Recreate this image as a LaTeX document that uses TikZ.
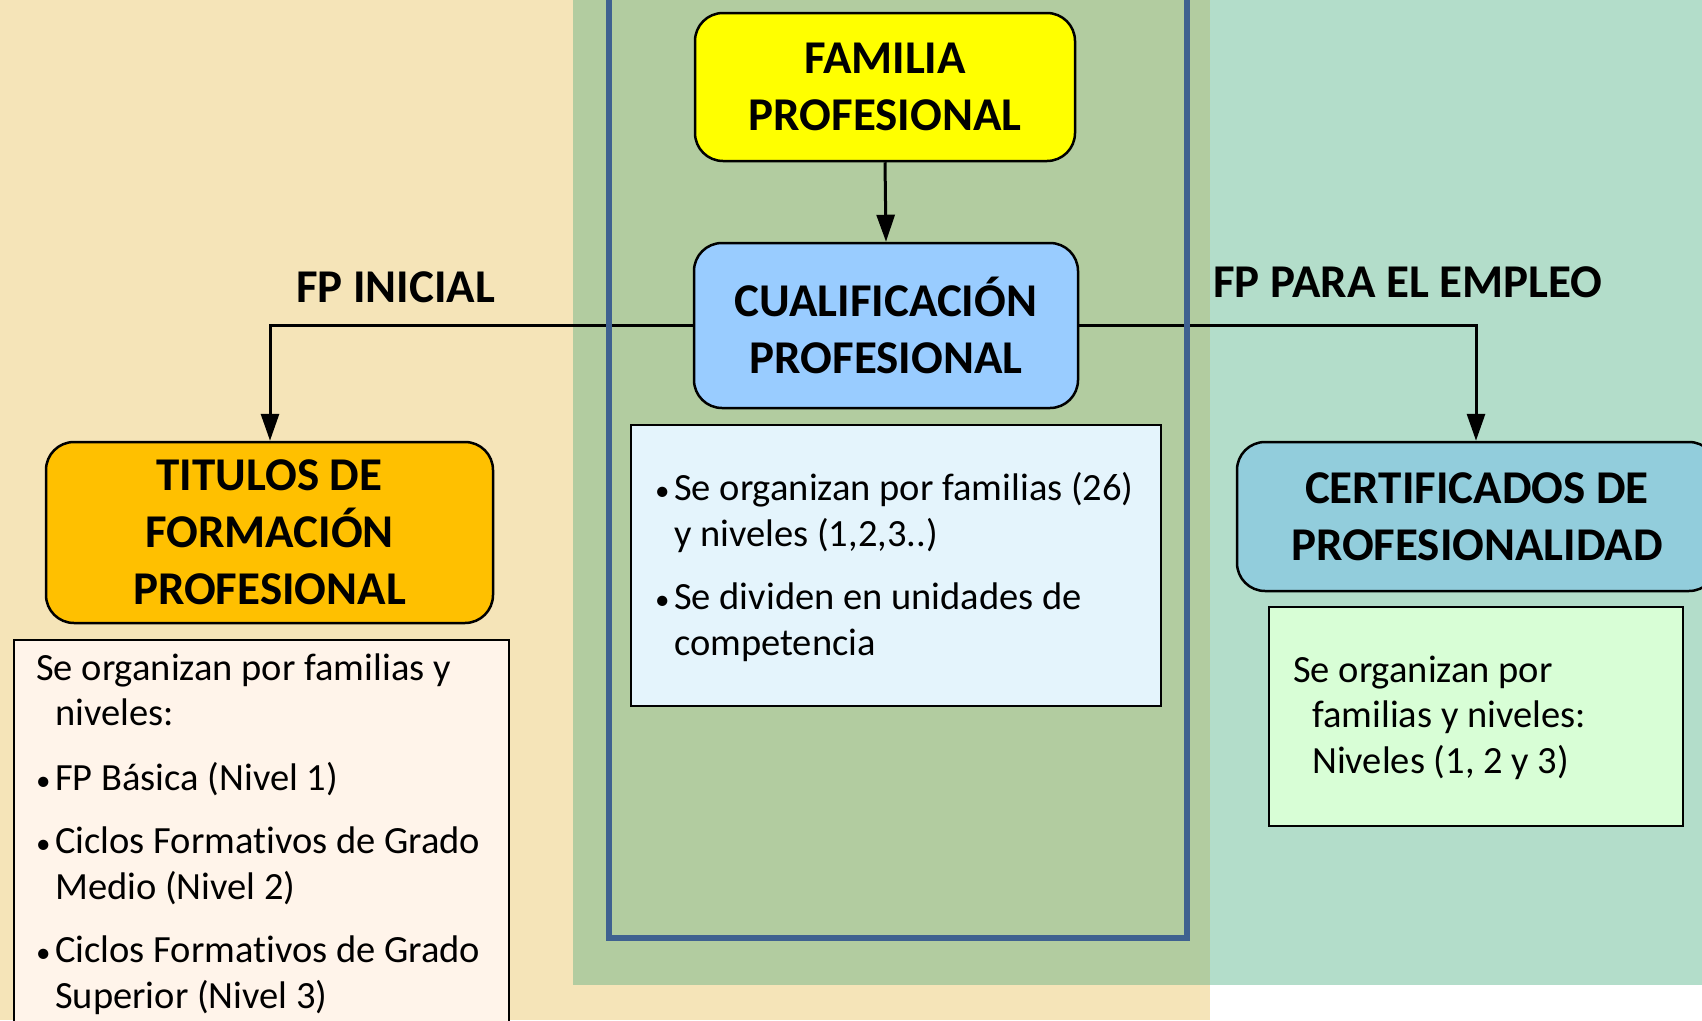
\documentclass[tikz,border=0pt]{standalone}
\usepackage{fontspec}
\setmainfont{Carlito}[RawFeature={-liga}]
\usetikzlibrary{arrows.meta}
\definecolor{bgbeige}{HTML}{F5E4B8}
\definecolor{bggreen}{HTML}{B2CCA0}
\definecolor{bgteal}{HTML}{B3DDCA}
\definecolor{framec}{HTML}{3F6190}
\definecolor{famc}{HTML}{FFFF00}
\definecolor{cualc}{HTML}{99CCFF}
\definecolor{titc}{HTML}{FFC000}
\definecolor{certc}{HTML}{92CDDC}
\definecolor{midc}{HTML}{E4F4FC}
\definecolor{leftc}{HTML}{FFF4EA}
\definecolor{rightc}{HTML}{D8FED6}
\newcommand{\bul}{\makebox[19pt][l]{\fontsize{29}{29}\selectfont•}}
\newcommand{\ind}{\hspace*{19pt}}
\pgfdeclarelayer{bglayer}
\pgfdeclarelayer{lineslayer}
\pgfdeclarelayer{framelayer}
\pgfsetlayers{bglayer,lineslayer,framelayer,main}
\tikzset{
  headbox/.style={draw=black, line width=2.5pt, rounded corners=28pt, inner sep=0pt,
    align=center, font=\fontsize{47}{57}\selectfont\bfseries},
  textbox/.style={draw=black, line width=2.5pt, inner sep=0pt},
  bodytext/.style={anchor=base west, align=left, inner sep=0pt,
    font=\fontsize{38.5}{45.5}\selectfont},
  conn/.style={draw=black, line width=3pt, -{Triangle[width=18pt,length=27pt]}},
  headlabel/.style={anchor=base west, inner sep=0pt, font=\fontsize{47}{57}\selectfont\bfseries}
}
\begin{document}
\begin{tikzpicture}[x=1pt,y=-1pt]
\useasboundingbox (0,0) rectangle (1702,1020);
% backgrounds
\begin{pgfonlayer}{bglayer}
\fill[white] (0,0) rectangle (1702,1020);
\fill[bgbeige] (0,0) rectangle (1210,1020);
\fill[bgteal] (1210,0) rectangle (1702,985);
\fill[bggreen] (573,0) rectangle (1210,985);
\end{pgfonlayer}

% heading boxes
\node[headbox, fill=famc, minimum width=380pt, minimum height=148pt] (fam) at (885,87) {FAMILIA\\PROFESIONAL};
\node[headbox, fill=cualc, minimum width=384pt, minimum height=165pt] (cual) at (886,325.5) {CUALIFICACIÓN\\PROFESIONAL};
\node[headbox, fill=titc, minimum width=447pt, minimum height=181pt] (tit) at (269.5,532.5) {TITULOS DE\\FORMACIÓN\\PROFESIONAL};
\node[headbox, fill=certc, minimum width=480pt, minimum height=149pt] (cert) at (1477,516.5) {CERTIFICADOS DE\\PROFESIONALIDAD};

% text boxes
\node[textbox, fill=midc, minimum width=530pt, minimum height=281pt] (midbox) at (896,565.5) {};
\node[textbox, fill=leftc, minimum width=495pt, minimum height=410pt] (leftbox) at (261.3,845) {};
\node[textbox, fill=rightc, minimum width=414pt, minimum height=219pt] (rightbox) at (1476,716.5) {};

% connectors
\begin{pgfonlayer}{lineslayer}
\coordinate (lcorner) at (270,325.5);
\coordinate (rcorner) at (1476,325.5);
\draw[conn] (fam.south) -- (cual.north);
\draw[conn] (cual.west) -- (lcorner) -- (tit.north -| lcorner);
\draw[conn] (cual.east) -- (rcorner) -- (cert.north -| rcorner);
\end{pgfonlayer}

% frame
\begin{pgfonlayer}{framelayer}
\draw[framec, line width=6pt] (608.5,-20) rectangle (1187,938);
\end{pgfonlayer}

% labels
\node[headlabel] (fpini) at (296,302) {FP INICIAL};
\node[headlabel] (fpemp) at (1213,297) {FP PARA EL EMPLEO};

% body texts (base = last line)
\node[bodytext] (midtxt) at (655,655) {\bul Se organizan por familias (26)\\ \ind y niveles (1,2,3..)\\[18pt] \bul Se dividen en unidades de\\ \ind competencia};
\node[bodytext] (lefttxt) at (36,1008) {Se organizan por familias y\\ \ind niveles:\\[19pt] \bul FP Básica (Nivel 1)\\[18pt] \bul Ciclos Formativos de Grado\\ \ind Medio (Nivel 2)\\[18pt] \bul Ciclos Formativos de Grado\\ \ind Superior (Nivel 3)};
\node[bodytext] (righttxt) at (1293,773) {Se organizan por\\ \ind familias y niveles:\\ \ind Niveles (1, 2 y 3)};
\end{tikzpicture}
\end{document}
